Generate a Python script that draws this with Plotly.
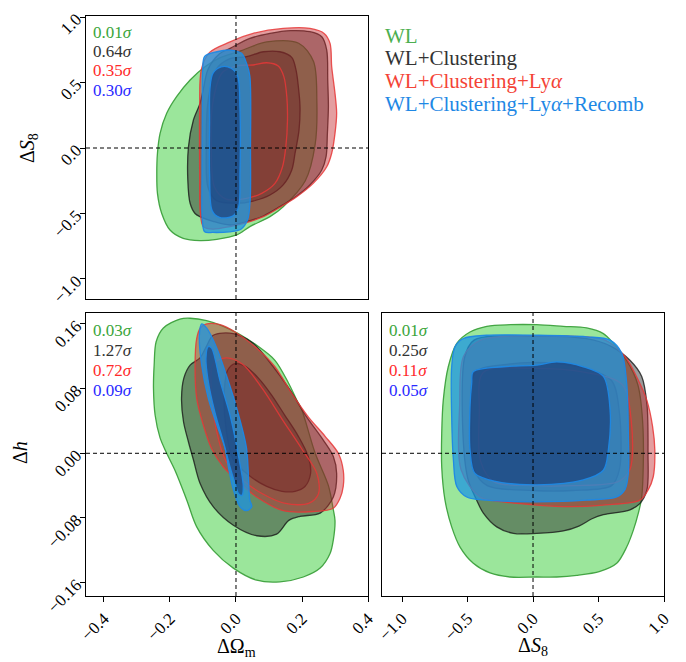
import plotly.graph_objects as go

# ---------------- data ----------------
SERIES = ["WL", "WL+Clustering", "WL+Clustering+Ly<i>α</i>", "WL+Clustering+Ly<i>α</i>+Recomb"]

# panel: (ΔΩm, ΔS8)
TL_WL_OUTER = [(-0.094, 0.62), (-0.139, 0.519), (-0.18, 0.392), (-0.21, 0.265), (-0.23, 0.112), (-0.238, -0.04),
               (-0.24, -0.193), (-0.238, -0.346), (-0.225, -0.50), (-0.2, -0.626), (-0.16, -0.69), (-0.109, -0.707),
               (-0.058, -0.697), (0.002, -0.664), (0.042, -0.60), (0.103, -0.524), (0.143, -0.448), (0.21, -0.25),
               (0.24, 0.03), (0.245, 0.36), (0.235, 0.66), (0.19, 0.80), (0.093, 0.81), (0.012, 0.74), (-0.048, 0.69)]
TL_WLC_OUTER = [(-0.018, 0.761), (0.042, 0.837), (0.103, 0.875), (0.164, 0.896), (0.224, 0.888), (0.26, 0.85),
                (0.275, 0.748), (0.278, 0.519), (0.28, 0.315), (0.277, 0.112), (0.273, -0.066), (0.26, -0.168),
                (0.224, -0.282), (0.184, -0.366), (0.133, -0.448), (0.083, -0.519), (0.032, -0.562), (-0.018, -0.588),
                (-0.07, -0.56), (-0.109, -0.524), (-0.124, -0.5), (-0.139, -0.422), (-0.146, -0.244), (-0.144, 0.01),
                (-0.129, 0.214), (-0.109, 0.341), (-0.099, 0.45), (-0.085, 0.6), (-0.05, 0.72)]
TL_WLC_INNER = [(0.032, 0.697), (0.083, 0.735), (0.133, 0.735), (0.169, 0.692), (0.182, 0.595), (0.189, 0.468),
                (0.194, 0.315), (0.191, 0.137), (0.179, -0.04), (0.169, -0.168), (0.143, -0.282), (0.103, -0.359),
                (0.052, -0.405), (0.002, -0.422), (-0.06, -0.40), (-0.085, -0.30), (-0.09, 0.0), (-0.085, 0.35),
                (-0.06, 0.6), (-0.02, 0.68)]
TL_WLCL_OUTER = [(-0.018, 0.81), (0.052, 0.875), (0.143, 0.913), (0.224, 0.913), (0.267, 0.875), (0.285, 0.799),
                 (0.29, 0.62), (0.30, 0.417), (0.305, 0.265), (0.30, 0.112), (0.29, -0.04), (0.275, -0.143),
                 (0.234, -0.27), (0.184, -0.372), (0.133, -0.453), (0.083, -0.524), (0.032, -0.570), (-0.018, -0.60),
                 (-0.07, -0.62), (-0.099, -0.60), (-0.108, -0.5), (-0.11, -0.2), (-0.11, 0.3), (-0.105, 0.6),
                 (-0.08, 0.73)]
TL_WLCL_INNER = [(0.052, 0.634), (0.093, 0.651), (0.128, 0.626), (0.145, 0.545), (0.154, 0.392), (0.156, 0.214),
                 (0.151, 0.01), (0.141, -0.143), (0.118, -0.27), (0.078, -0.346), (0.032, -0.384), (-0.03, -0.39),
                 (-0.065, -0.3), (-0.075, 0.0), (-0.07, 0.35), (-0.04, 0.58), (0.01, 0.63)]
TL_ALL_OUTER = [(-0.101, 0.6), (-0.095, 0.70), (-0.058, 0.735), (-0.018, 0.748), (0.017, 0.723), (0.032, 0.647),
                (0.042, 0.55), (0.044, 0.0), (0.043, -0.4), (0.035, -0.55), (0.015, -0.62), (-0.02, -0.64),
                (-0.07, -0.645), (-0.095, -0.64), (-0.102, -0.55), (-0.103, -0.2), (-0.102, 0.3)]
TL_ALL_INNER = [(-0.079, 0.45), (-0.07, 0.57), (-0.045, 0.62), (-0.015, 0.61), (0.005, 0.55), (0.012, 0.3),
                (0.012, -0.2), (0.008, -0.45), (-0.01, -0.52), (-0.05, -0.53), (-0.072, -0.48), (-0.08, -0.2),
                (-0.08, 0.2)]

# panel: (ΔΩm, Δh)
BL_WL_OUTER = [(-0.139, 0.167), (-0.17, 0.166), (-0.22, 0.155), (-0.242, 0.138), (-0.248, 0.109), (-0.25, 0.08),
               (-0.245, 0.047), (-0.23, 0.019), (-0.21, 0.0), (-0.185, -0.021), (-0.149, -0.058), (-0.119, -0.091),
               (-0.069, -0.12), (-0.008, -0.142), (0.063, -0.157), (0.133, -0.159), (0.204, -0.153), (0.255, -0.142),
               (0.285, -0.124), (0.295, -0.107), (0.30, -0.083), (0.295, -0.07), (0.28, -0.04), (0.24, 0.0),
               (0.199, 0.054), (0.184, 0.066), (0.159, 0.087), (0.118, 0.115), (0.068, 0.132), (0.007, 0.148),
               (-0.038, 0.157), (-0.089, 0.164)]
BL_WLC_OUTER = [(-0.069, 0.146), (-0.008, 0.148), (0.052, 0.136), (0.113, 0.107), (0.164, 0.078), (0.214, 0.045),
                (0.265, 0.016), (0.295, -0.004), (0.305, -0.025), (0.295, -0.054), (0.255, -0.074), (0.194, -0.078),
                (0.16, -0.083), (0.123, -0.1), (0.063, -0.102), (-0.008, -0.089), (-0.069, -0.066),
                (-0.109, -0.037), (-0.129, -0.008), (-0.144, 0.014), (-0.159, 0.039), (-0.165, 0.068),
                (-0.158, 0.093), (-0.139, 0.109), (-0.109, 0.118), (-0.09, 0.132)]
BL_WLC_INNER = [(-0.003, 0.111), (0.027, 0.108), (0.068, 0.093), (0.108, 0.072), (0.148, 0.047), (0.189, 0.021),
                (0.219, -0.004), (0.226, -0.025), (0.209, -0.041), (0.179, -0.047), (0.139, -0.047), (0.093, -0.041),
                (0.032, -0.025), (-0.008, -0.008), (-0.03, 0.03), (-0.035, 0.08), (-0.025, 0.103)]
BL_WLCL_OUTER = [(-0.089, 0.160), (-0.048, 0.159), (-0.003, 0.150), (0.068, 0.128), (0.118, 0.107), (0.169, 0.074),
                 (0.219, 0.045), (0.27, 0.021), (0.31, 0.0), (0.325, -0.021), (0.325, -0.041), (0.315, -0.056),
                 (0.295, -0.068), (0.234, -0.072), (0.143, -0.071), (0.063, -0.054), (0.012, -0.037),
                 (-0.038, -0.017), (-0.074, 0.006), (-0.099, 0.035), (-0.119, 0.068), (-0.124, 0.109),
                 (-0.119, 0.142), (-0.108, 0.155)]
BL_WLCL_INNER = [(-0.07, 0.11), (-0.03, 0.118), (0.02, 0.11), (0.08, 0.08), (0.14, 0.042), (0.2, 0.005),
                 (0.245, -0.025), (0.25, -0.05), (0.22, -0.062), (0.15, -0.062), (0.08, -0.05), (0.02, -0.033),
                 (-0.03, -0.01), (-0.06, 0.03), (-0.075, 0.08)]
BL_ALL_OUTER = [(-0.104, 0.160), (-0.089, 0.155), (-0.058, 0.13), (-0.023, 0.089), (0.002, 0.056), (0.032, 0.006),
                (0.042, -0.058), (0.048, -0.066), (0.032, -0.071), (0.012, -0.066), (-0.008, -0.045),
                (-0.023, -0.017), (-0.033, 0.006), (-0.058, 0.035), (-0.084, 0.068), (-0.104, 0.109),
                (-0.111, 0.146)]
BL_ALL_INNER = [(-0.084, 0.132), (-0.074, 0.13), (-0.048, 0.089), (-0.018, 0.047), (0.007, -0.002), (0.022, -0.041),
                (0.018, -0.052), (0.008, -0.05), (-0.003, -0.037), (-0.018, -0.017), (-0.038, 0.014),
                (-0.064, 0.051), (-0.084, 0.089), (-0.091, 0.117)]

# panel: (ΔS8, Δh)
BR_WL_OUTER = [(-0.353, 0.157), (-0.176, 0.159), (0.028, 0.159), (0.231, 0.157), (0.41, 0.155), (0.537, 0.148),
               (0.613, 0.136), (0.715, 0.115), (0.80, 0.085), (0.84, 0.03), (0.83, -0.054), (0.804, -0.074),
               (0.766, -0.095), (0.715, -0.116), (0.639, -0.136), (0.511, -0.146), (0.334, -0.151), (0.181, -0.153),
               (0.028, -0.153), (-0.176, -0.153), (-0.328, -0.148), (-0.456, -0.136), (-0.557, -0.116),
               (-0.621, -0.091), (-0.672, -0.058), (-0.697, -0.017), (-0.697, 0.025), (-0.685, 0.066),
               (-0.647, 0.107), (-0.582, 0.136), (-0.481, 0.150)]
BR_WLC_OUTER = [(-0.45, 0.14), (0.0, 0.145), (0.4, 0.142), (0.6, 0.132), (0.74, 0.115), (0.83, 0.095), (0.87, 0.06),
                (0.878, 0.0), (0.87, -0.045), (0.817, -0.062), (0.74, -0.07), (0.537, -0.076), (0.45, -0.081),
                (0.35, -0.09), (0.231, -0.096), (0.028, -0.099), (-0.15, -0.099), (-0.277, -0.091),
                (-0.379, -0.074), (-0.43, -0.058), (-0.5, -0.03), (-0.54, 0.05), (-0.52, 0.12)]
BR_WLC_INNER = [(-0.44, 0.1), (-0.2, 0.11), (0.1, 0.112), (0.4, 0.105), (0.6, 0.09), (0.66, 0.05), (0.66, -0.02),
                (0.6, -0.04), (0.3, -0.046), (0.0, -0.046), (-0.35, -0.04), (-0.45, -0.02), (-0.47, 0.04)]
BR_WLCL_OUTER = [(-0.53, 0.12), (-0.4, 0.14), (0.2, 0.145), (0.55, 0.14), (0.7, 0.12), (0.79, 0.095),
                 (0.868, 0.066), (0.913, 0.033), (0.93, 0.004), (0.918, -0.029), (0.88, -0.045), (0.817, -0.058),
                 (0.537, -0.064), (0.282, -0.066), (0.028, -0.064), (-0.227, -0.06), (-0.405, -0.054),
                 (-0.55, -0.02), (-0.56, 0.06)]
BR_WLCL_INNER = [(-0.38, 0.1), (0.0, 0.105), (0.4, 0.1), (0.68, 0.085), (0.75, 0.04), (0.74, -0.02), (0.65, -0.035),
                 (0.3, -0.04), (0.0, -0.04), (-0.3, -0.035), (-0.4, -0.01), (-0.41, 0.05)]
BR_ALL_OUTER = [(-0.532, 0.142), (-0.353, 0.146), (0.028, 0.146), (0.41, 0.144), (0.588, 0.140), (0.677, 0.124),
                (0.715, 0.087), (0.728, 0.025), (0.728, -0.025), (0.702, -0.045), (0.639, -0.054), (0.41, -0.058),
                (0.028, -0.06), (-0.353, -0.058), (-0.506, -0.054), (-0.582, -0.041), (-0.608, -0.008),
                (-0.621, 0.045), (-0.621, 0.107), (-0.595, 0.132)]
BR_ALL_INNER = [(-0.456, 0.101), (-0.227, 0.107), (0.028, 0.109), (0.181, 0.113), (0.384, 0.107), (0.537, 0.095),
                (0.588, 0.054), (0.575, 0.004), (0.537, -0.021), (0.384, -0.033), (0.028, -0.039), (-0.277, -0.035),
                (-0.443, -0.025), (-0.481, 0.004), (-0.481, 0.058), (-0.468, 0.087)]

TL_SIGMAS = ["0.01", "0.64", "0.35", "0.30"]
BL_SIGMAS = ["0.03", "1.27", "0.72", "0.09"]
BR_SIGMAS = ["0.01", "0.25", "0.11", "0.05"]

OM_TICKS = [-0.4, -0.2, 0.0, 0.2, 0.4]
S8_TICKS = [-1.0, -0.5, 0.0, 0.5, 1.0]
H_TICKS = [-0.16, -0.08, 0.0, 0.08, 0.16]

# ---------------- styling ----------------
FONT = "Liberation Serif"
W, H = 686, 662
LINE_COL = ["rgba(60,160,60,0.95)", "rgba(25,25,25,0.8)", "rgba(230,55,55,0.85)", "rgba(30,136,229,0.95)"]
FILL_OUT = ["rgba(55,205,55,0.5)", "rgba(40,40,40,0.47)", "rgba(195,40,45,0.45)", "rgba(30,150,225,0.75)"]
FILL_IN = ["rgba(55,205,55,0.5)", "rgba(35,30,30,0.45)", "rgba(150,50,45,0.18)", "rgba(20,45,105,0.55)"]
LEGEND_COL = ["#4CAF50", "#333333", "#F44336", "#1E88E5"]
SIGMA_COL = ["#3aa53a", "#333333", "#ff2a2a", "#2a2aff"]

fig = go.Figure()

panels = [
    ("x", "y", [TL_WL_OUTER, None], [TL_WLC_OUTER, TL_WLC_INNER], [TL_WLCL_OUTER, TL_WLCL_INNER],
     [TL_ALL_OUTER, TL_ALL_INNER]),
    ("x2", "y2", [BL_WL_OUTER, None], [BL_WLC_OUTER, BL_WLC_INNER], [BL_WLCL_OUTER, BL_WLCL_INNER],
     [BL_ALL_OUTER, BL_ALL_INNER]),
    ("x3", "y3", [BR_WL_OUTER, None], [BR_WLC_OUTER, BR_WLC_INNER], [BR_WLCL_OUTER, BR_WLCL_INNER],
     [BR_ALL_OUTER, BR_ALL_INNER]),
]


def add_contour(pts, xa, ya, line_col, fill_col):
    xs = [p[0] for p in pts] + [pts[0][0]]
    ys = [p[1] for p in pts] + [pts[0][1]]
    fig.add_trace(go.Scatter(x=xs, y=ys, xaxis=xa, yaxis=ya, mode="lines", fill="toself",
                             fillcolor=fill_col, line=dict(color=line_col, width=1.3, shape="spline", smoothing=0.9),
                             hoverinfo="skip", showlegend=False))


for xa, ya, *chains in panels:
    for ci, (outer, inner) in enumerate(chains):
        add_contour(outer, xa, ya, LINE_COL[ci], FILL_OUT[ci])
        if inner is not None:
            add_contour(inner, xa, ya, LINE_COL[ci], FILL_IN[ci])


def xdom(a, b):
    return [a / W, b / W]


def ydom(top, bottom):
    return [1 - bottom / H, 1 - top / H]


axis_common = dict(showgrid=False, zeroline=False, showline=True, linecolor="black", linewidth=1, mirror=True,
                   ticks="outside", ticklen=5, tickwidth=1, tickcolor="black", tickangle=-45, automargin=False,
                   tickfont=dict(family=FONT, size=17, color="black"))

fig.update_layout(
    width=W, height=H, margin=dict(l=0, r=0, t=0, b=0, pad=0, autoexpand=False), autosize=False,
    paper_bgcolor="white", plot_bgcolor="white",
    xaxis=dict(axis_common, domain=xdom(86, 368), anchor="y", range=[-0.4545, 0.4], tickvals=OM_TICKS,
               showticklabels=False, ticks=""),
    yaxis=dict(axis_common, domain=ydom(16, 299), anchor="x", range=[-1.153, 1.008], tickvals=S8_TICKS,
               tickformat=".1f"),
    xaxis2=dict(axis_common, domain=xdom(86, 368), anchor="y2", range=[-0.4545, 0.4], tickvals=OM_TICKS,
                tickformat=".1f"),
    yaxis2=dict(axis_common, domain=ydom(313, 596), anchor="x2", range=[-0.1765, 0.1735], tickvals=H_TICKS,
                tickformat=".2f"),
    xaxis3=dict(axis_common, domain=xdom(382, 664), anchor="y3", range=[-1.153, 1.0], tickvals=S8_TICKS,
                tickformat=".1f"),
    yaxis3=dict(axis_common, domain=ydom(313, 596), anchor="x3", range=[-0.1765, 0.1735], tickvals=H_TICKS,
                showticklabels=False, ticks=""),
)

for xa, ya in [("x", "y"), ("x2", "y2"), ("x3", "y3")]:
    fig.add_shape(type="line", xref=f"{xa} domain", yref=ya, x0=0, x1=1, y0=0, y1=0,
                  line=dict(color="black", width=1, dash="4px,3px"))
    fig.add_shape(type="line", xref=xa, yref=f"{ya} domain", x0=0, x1=0, y0=0, y1=1,
                  line=dict(color="black", width=1, dash="4px,3px"))

ann = []
for sig, px, pys in [(TL_SIGMAS, 91, [32, 51.5, 71, 90.5]), (BL_SIGMAS, 91, [330, 350, 370, 390]),
                     (BR_SIGMAS, 387, [330, 350, 370, 390])]:
    for i, s in enumerate(sig):
        ann.append(dict(x=px / W, y=1 - pys[i] / H, xref="paper", yref="paper", xanchor="left", yanchor="middle",
                        text=f"{s}<i>σ</i>", showarrow=False, font=dict(family=FONT, size=17, color=SIGMA_COL[i])))
for i, name in enumerate(SERIES):
    ann.append(dict(x=383 / W, y=1 - [36, 58.5, 81, 103.5][i] / H, xref="paper", yref="paper", xanchor="left",
                    yanchor="middle", text=name, showarrow=False,
                    font=dict(family=FONT, size=21, color=LEGEND_COL[i])))
ann.append(dict(x=28 / W, y=1 - 148 / H, xref="paper", yref="paper", xanchor="center", yanchor="middle",
                textangle=-90, text="Δ<i>S</i><sub>8</sub>",
                showarrow=False, font=dict(family=FONT, size=20, color="black")))
ann.append(dict(x=20 / W, y=1 - 453 / H, xref="paper", yref="paper", xanchor="center", yanchor="middle",
                textangle=-90, text="Δ<i>h</i>",
                showarrow=False, font=dict(family=FONT, size=20, color="black")))
ann.append(dict(x=236 / W, y=1 - 647 / H, xref="paper", yref="paper", xanchor="center", yanchor="middle",
                text="ΔΩ<sub>m</sub>", showarrow=False, font=dict(family=FONT, size=20, color="black")))
ann.append(dict(x=533 / W, y=1 - 646 / H, xref="paper", yref="paper", xanchor="center", yanchor="middle",
                text="Δ<i>S</i><sub>8</sub>", showarrow=False, font=dict(family=FONT, size=20, color="black")))
fig.update_layout(annotations=ann)

fig.write_html("out.html", include_plotlyjs=True, config={"displayModeBar": False})

# remove the browser's default page margin so the figure sits at the window origin
with open("out.html", encoding="utf-8") as f:
    html = f.read()
html = html.replace("<body>", '<body style="margin:0;padding:0;overflow:hidden">', 1)
with open("out.html", "w", encoding="utf-8") as f:
    f.write(html)
